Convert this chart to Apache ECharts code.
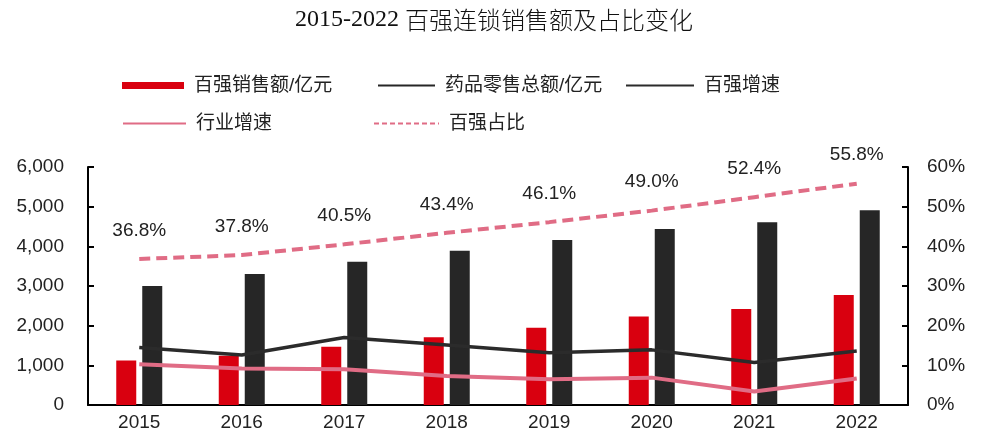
<!DOCTYPE html>
<html>
<head>
<meta charset="utf-8">
<script src="https://cdn.jsdelivr.net/npm/echarts@6/dist/echarts.min.js"></script>
<style>
html,body{margin:0;padding:0;background:#fff;}
#chart{width:988px;height:441px;}
</style>
</head>
<body>
<div id="chart"></div>
<script>
var years = ['2015','2016','2017','2018','2019','2020','2021','2022'];
var top100Sales = [1120, 1240, 1470, 1710, 1950, 2230, 2420, 2770];
var retailTotal = [3000, 3300, 3610, 3890, 4160, 4440, 4610, 4910];
var top100Growth = [14.5, 12.6, 17.0, 15.1, 13.2, 13.9, 10.7, 13.6];
var industryGrowth = [10.3, 9.2, 9.0, 7.3, 6.5, 6.9, 3.4, 6.7];
var top100Share = [36.8, 37.8, 40.5, 43.4, 46.1, 49.0, 52.4, 55.8];
var leftTicks = [0, 6000, 1000];
var rightTicks = [0, 60, 10];

var FONT = 'Liberation Sans, Noto Sans CJK SC, sans-serif';
var TXT = '#222';
var RED = '#D9000F';
var BLK = '#262626';
var PINK = '#E06C85';

function legend(name, left, top, w, h, icon, extra) {
  var o = {
    data: [icon ? {name: name, icon: icon} : {name: name}],
    left: left, top: top, padding: 0,
    itemWidth: w, itemHeight: h,
    selectedMode: false,
    textStyle: {fontFamily: FONT, fontSize: 19, color: TXT, padding: [0, 0, 0, 5]}
  };
  for (var k in extra) o[k] = extra[k];
  return o;
}

var chart = echarts.init(document.getElementById('chart'));
chart.setOption({
  animation: false,
  title: {
    text: '{a|2015-2022 }{b|百强连锁销售额及占比变化}',
    left: 'center', top: 3,
    textStyle: {
      fontWeight: 'normal',
      rich: {
        a: {fontFamily: 'Liberation Serif, serif', fontSize: 24, color: '#111', fontWeight: 'normal'},
        b: {fontFamily: 'Noto Sans CJK SC', fontSize: 24, color: '#111', fontWeight: 300}
      }
    }
  },
  legend: [
    legend('百强销售额/亿元', 122, 76, 62, 7, 'rect', {}),
    legend('药品零售总额/亿元', 378, 76, 57, 2, 'rect', {}),
    legend('百强增速', 625, 76, 68, 20, null, {lineStyle: {width: 2}, itemStyle: {opacity: 0}}),
    legend('行业增速', 122, 114, 63, 20, null, {lineStyle: {width: 2}, itemStyle: {opacity: 0}}),
    legend('百强占比', 373, 114, 65, 20, null, {lineStyle: {width: 2, type: [5, 3]}, itemStyle: {opacity: 0}})
  ],
  grid: {left: 88, right: 80, top: 167, bottom: 36},
  xAxis: {
    type: 'category', data: years, boundaryGap: true,
    axisLine: {lineStyle: {color: '#000', width: 2}},
    axisTick: {show: false},
    axisLabel: {fontFamily: FONT, fontSize: 19, color: TXT, margin: 8}
  },
  yAxis: [{
    type: 'value', min: leftTicks[0], max: leftTicks[1], interval: leftTicks[2],
    axisLine: {show: true, lineStyle: {color: '#000', width: 2}},
    axisTick: {show: true, inside: true, length: 6, lineStyle: {color: '#000', width: 2}},
    splitLine: {show: false},
    axisLabel: {fontFamily: FONT, fontSize: 19, color: TXT, margin: 24,
      formatter: function (v) { return v.toLocaleString('en-US'); }}
  }, {
    type: 'value', min: rightTicks[0], max: rightTicks[1], interval: rightTicks[2],
    axisLine: {show: true, lineStyle: {color: '#000', width: 2}},
    axisTick: {show: true, inside: true, length: 6, lineStyle: {color: '#000', width: 2}},
    splitLine: {show: false},
    axisLabel: {fontFamily: FONT, fontSize: 19, color: TXT, margin: 19, formatter: '{value}%'}
  }],
  series: [{
    name: '百强销售额/亿元', type: 'bar', data: top100Sales,
    barWidth: 20, barGap: '30%', itemStyle: {color: RED}
  }, {
    name: '药品零售总额/亿元', type: 'bar', data: retailTotal,
    barWidth: 20, itemStyle: {color: BLK}
  }, {
    name: '百强增速', type: 'line', yAxisIndex: 1, data: top100Growth,
    symbol: 'none', lineStyle: {color: '#2b2b2b', width: 3.5}, itemStyle: {color: '#2b2b2b'}, z: 5
  }, {
    name: '行业增速', type: 'line', yAxisIndex: 1, data: industryGrowth,
    symbol: 'none', lineStyle: {color: PINK, width: 4}, itemStyle: {color: PINK}, z: 4
  }, {
    name: '百强占比', type: 'line', yAxisIndex: 1, data: top100Share,
    symbol: 'circle', symbolSize: 2, showSymbol: true,
    lineStyle: {color: PINK, width: 4, type: [11, 6]},
    itemStyle: {color: 'rgba(0,0,0,0)', borderWidth: 0}, z: 4,
    label: {show: true, position: 'top', distance: 18, fontFamily: FONT, fontSize: 19, color: TXT,
      formatter: function (p) { return p.value.toFixed(1) + '%'; }}
  }]
});
</script>
</body>
</html>
